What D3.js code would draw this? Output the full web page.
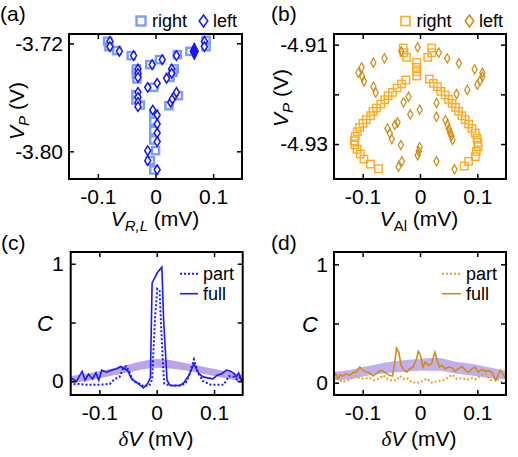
<!DOCTYPE html>
<html><head><meta charset="utf-8">
<script src="https://cdn.jsdelivr.net/npm/d3@7"></script>
<style>body{margin:0;background:#fff}svg{display:block}text{font-family:"Liberation Sans",Arial,sans-serif;fill:#000}</style>
</head><body><svg id="chart" width="518" height="457"></svg>
<script>
// ---------- data ----------
const xTicks = [-0.1, 0, 0.1];
const aYTicks = [-3.72, -3.80];
const bYTicks = [-4.91, -4.92, -4.93];
const cYTicks = [0, 0.5, 1];

// panel (a): V_P vs V_R,L
const aRight = [[-0.083,-3.7185],[-0.0807,-3.7225],[-0.0673,-3.7254],[-0.0421,-3.7291],[-0.0099,-3.7358],[0.007,-3.7321],[0.038,-3.7284],[0.0596,-3.7259],[0.0877,-3.7178],[0.0877,-3.7225],[-0.0333,-3.739],[-0.0333,-3.7427],[-0.0322,-3.7464],[-0.0029,-3.7526],[0.0251,-3.7452],[0.0304,-3.7415],[0.0327,-3.739],[-0.0339,-3.758],[-0.0339,-3.762],[-0.0263,-3.7657],[0.0398,-3.7588],[0.0234,-3.7662],[-0.0029,-3.7723],[-0.0029,-3.7778],[-0.0029,-3.7847],[-0.0029,-3.7916],[0,-3.7995],[-0.0088,-3.8069],[-0.0029,-3.8138]];
const aLeft = [[-0.079,-3.7185],[-0.079,-3.7225],[-0.0626,-3.7259],[-0.038,-3.7291],[-0.0058,-3.7358],[0.0117,-3.7321],[0.0363,-3.7291],[0.0848,-3.7185],[0.0848,-3.7225],[-0.0304,-3.739],[-0.0304,-3.7422],[-0.0304,-3.7452],[-0.0135,-3.7526],[0.0029,-3.7496],[0.0193,-3.7459],[0.0281,-3.739],[0.0281,-3.7422],[-0.0304,-3.7563],[-0.0304,-3.76],[-0.0304,-3.7637],[-0.0304,-3.7669],[0.0263,-3.7637],[0.0292,-3.7612],[0.0339,-3.7583],[0.0363,-3.7563],[-0.0047,-3.7694],[0.0029,-3.7731],[0.0029,-3.7798],[0.0029,-3.7864],[0.0029,-3.7928],[-0.0135,-3.7995],[-0.0135,-3.8069],[0.0029,-3.8136]];
const aLeftFilled = [[0.0673,-3.7259]];

// panel (b): V_P vs V_Al
const bRight = [[-0.0292,-4.91067],[-0.0281,-4.91161],[-0.0234,-4.91255],[0.0205,-4.91067],[0.0205,-4.91161],[0.0135,-4.91255],[-0.0058,-4.91356],[-0.0058,-4.91456],[-0.0058,-4.91544],[-0.0058,-4.91631],[-0.0246,-4.91711],[-0.0322,-4.91792],[-0.0398,-4.91872],[-0.048,-4.9196],[-0.0556,-4.92027],[-0.0614,-4.92107],[-0.0684,-4.92195],[-0.076,-4.92275],[-0.0819,-4.92342],[-0.086,-4.9243],[-0.0936,-4.9251],[-0.0994,-4.92584],[-0.1053,-4.92664],[-0.1094,-4.92752],[-0.1129,-4.92846],[-0.1146,-4.92933],[-0.1135,-4.9302],[-0.1099,-4.93107],[-0.1041,-4.93201],[-0.0977,-4.93302],[-0.0865,-4.93403],[-0.0725,-4.93497],[0.0164,-4.91691],[0.0234,-4.91779],[0.0304,-4.91846],[0.0363,-4.9194],[0.0439,-4.92013],[0.0497,-4.92101],[0.0561,-4.92181],[0.062,-4.92262],[0.0673,-4.92342],[0.0731,-4.9243],[0.0789,-4.9251],[0.0848,-4.92597],[0.0906,-4.92685],[0.0965,-4.92779],[0.0994,-4.92879],[0.1006,-4.92966],[0.1012,-4.93054],[0.0982,-4.93148],[0.0965,-4.93255],[0.0848,-4.93349],[0.0772,-4.93443]];
const bLeft = [[-0.0041,-4.91054],[-0.0327,-4.91134],[-0.062,-4.91275],[-0.0813,-4.91362],[0.0327,-4.91161],[0.0474,-4.91275],[0.0678,-4.91376],[-0.1076,-4.91564],[-0.1018,-4.91456],[-0.1006,-4.91644],[-0.0977,-4.91738],[0.0953,-4.91497],[0.1088,-4.91564],[0.1088,-4.91644],[0.1047,-4.91725],[0.1,-4.91805],[0.0825,-4.91913],[-0.0813,-4.91846],[-0.0772,-4.91966],[0.0637,-4.91993],[-0.0199,-4.92047],[-0.0287,-4.92161],[-0.0006,-4.92309],[-0.017,-4.92403],[0.0287,-4.92174],[0.0287,-4.9245],[-0.0392,-4.92564],[-0.0439,-4.92611],[-0.0567,-4.92685],[-0.0526,-4.92785],[-0.0491,-4.929],[-0.0333,-4.9302],[0.0444,-4.92517],[0.048,-4.92611],[0.0503,-4.92698],[0.0526,-4.92772],[0.055,-4.92839],[0.0567,-4.9292],[-0.0006,-4.93067],[-0.0023,-4.93148],[-0.0041,-4.93228],[-0.0316,-4.93349],[-0.0374,-4.93456],[0.0287,-4.93349],[0.0602,-4.9351]];

// panel (c): correlation, blue
const cFull = [[-0.152,0.014],[-0.146,0.02],[-0.140,-0.003],[-0.135,0.043],[-0.130,0.083],[-0.125,0.009],[-0.119,0.06],[-0.112,0.02],[-0.106,0.071],[-0.101,0.009],[-0.096,0.094],[-0.088,0.077],[-0.079,0.094],[-0.070,0.106],[-0.063,0.126],[-0.056,0.106],[-0.050,0.086],[-0.045,0.029],[-0.038,0],[-0.030,-0.029],[-0.023,-0.057],[-0.016,-0.02],[-0.011,0.029],[-0.008,0.837],[0.001,0.923],[0.009,0.971],[0.012,0.53],[0.018,0.009],[0.023,-0.034],[0.032,-0.037],[0.041,-0.034],[0.047,-0.014],[0.056,0.049],[0.065,0.149],[0.073,0.066],[0.081,0.037],[0.089,0.029],[0.098,0.02],[0.105,0.049],[0.114,0.066],[0.122,0.094],[0.129,0.086],[0.135,0.066],[0.139,0.037],[0.143,0.071],[0.147,0.014],[0.152,0.02]];
const cPart = [[-0.152,-0.026],[-0.135,-0.023],[-0.126,-0.029],[-0.117,-0.029],[-0.099,-0.029],[-0.082,-0.023],[-0.073,0.02],[-0.065,0.034],[-0.058,0.114],[-0.053,0.129],[-0.047,0.071],[-0.041,0],[-0.032,-0.014],[-0.023,-0.043],[-0.013,-0.037],[-0.008,0.014],[-0.003,0.53],[0.001,0.786],[0.005,0.771],[0.009,0.329],[0.013,-0.02],[0.023,-0.037],[0.041,-0.037],[0.05,-0.02],[0.057,0.057],[0.065,0.186],[0.072,0.071],[0.081,0],[0.094,-0.029],[0.117,-0.029],[0.126,0.043],[0.135,0.037],[0.140,0.014],[0.146,0.037],[0.152,-0.029]];
const bandX = [-0.15,-0.12,-0.09,-0.06,-0.03,0,0.03,0.06,0.09,0.12,0.15];
const cBandLow  = [-0.015,0.005,0.035,0.065,0.095,0.115,0.105,0.085,0.055,0.025,-0.005];
const cBandHigh = [0.045,0.065,0.095,0.125,0.165,0.19,0.175,0.145,0.115,0.085,0.055];

// panel (d): correlation, orange
const dFull = [[-0.152,0.039],[-0.147,0.076],[-0.143,0.034],[-0.139,0.067],[-0.135,0.056],[-0.129,0.076],[-0.123,0.062],[-0.117,0.084],[-0.111,0.09],[-0.105,0.132],[-0.099,0.104],[-0.094,0.09],[-0.088,0.084],[-0.082,0.056],[-0.076,0.076],[-0.070,0.104],[-0.064,0.096],[-0.058,0.076],[-0.053,0.062],[-0.048,0.056],[-0.044,0.174],[-0.041,0.292],[-0.037,0.258],[-0.033,0.146],[-0.029,0.112],[-0.023,0.09],[-0.018,0.118],[-0.012,0.132],[-0.006,0.202],[-0.003,0.264],[0.001,0.23],[0.005,0.132],[0.009,0.174],[0.015,0.146],[0.020,0.16],[0.026,0.258],[0.029,0.202],[0.034,0.132],[0.038,0.146],[0.044,0.118],[0.050,0.132],[0.056,0.124],[0.061,0.096],[0.067,0.118],[0.073,0.138],[0.079,0.104],[0.085,0.09],[0.091,0.118],[0.096,0.132],[0.102,0.09],[0.108,0.112],[0.114,0.096],[0.120,0.104],[0.126,0.084],[0.132,0.02],[0.136,0.062],[0.140,0.104],[0.146,0.062],[0.151,0.02]];
const dPart = [[-0.152,0.02],[-0.143,0.034],[-0.135,0.006],[-0.123,0.025],[-0.114,0.056],[-0.105,0.039],[-0.096,0.034],[-0.088,0.039],[-0.079,0.02],[-0.070,0.039],[-0.064,0.062],[-0.058,0.034],[-0.050,0.02],[-0.041,0.02],[-0.035,0.056],[-0.029,0.034],[-0.023,0.042],[-0.015,0.006],[-0.006,-0.003],[0.003,0.011],[0.012,0.034],[0.020,0],[0.029,0.011],[0.041,0.02],[0.050,0.048],[0.056,0.067],[0.064,0.034],[0.073,0.039],[0.082,0.025],[0.091,0.039],[0.096,0.028],[0.105,0.056],[0.114,0.076],[0.123,0.02],[0.132,0.039],[0.140,0.011],[0.146,0]];
const dBandLow  = [0.02,0.03,0.06,0.08,0.09,0.10,0.10,0.08,0.06,0.04,0.03];
const dBandHigh = [0.09,0.11,0.14,0.17,0.19,0.20,0.21,0.18,0.16,0.13,0.10];

// ---------- drawing ----------
const svg = d3.select("#chart");
const fmtX = d => d === 0 ? "0" : d.toFixed(1);

function panel(o) {
  const x = d3.scaleLinear().domain([-0.15, 0.15]).range(o.xr);
  const y = d3.scaleLinear().domain(o.yd).range(o.yr);
  const g = svg.append("g");
  const id = "clip" + o.name;
  svg.append("clipPath").attr("id", id).append("rect")
    .attr("x", o.xr[0]).attr("y", o.yr[1]).attr("width", o.xr[1]-o.xr[0]).attr("height", o.yr[0]-o.yr[1]);
  const plot = g.append("g").attr("clip-path", `url(#${id})`);
  const ax = g.append("g");
  ax.append("g").attr("transform", `translate(0,${o.yr[0]})`)
    .call(d3.axisBottom(x).tickValues(xTicks).tickSize(-5).tickPadding(10).tickFormat(fmtX));
  ax.append("g").attr("transform", `translate(0,${o.yr[1]})`)
    .call(d3.axisTop(x).tickValues(xTicks).tickSize(-5).tickFormat(""));
  ax.append("g").attr("transform", `translate(${o.xr[0]},0)`)
    .call(d3.axisLeft(y).tickValues(o.yt).tickSize(-5).tickPadding(o.yPad).tickFormat(o.yf));
  ax.append("g").attr("transform", `translate(${o.xr[1]},0)`)
    .call(d3.axisRight(y).tickValues(o.yt).tickSize(-5).tickFormat(""));
  ax.selectAll(".domain").remove();
  ax.selectAll(".tick line").attr("stroke", "#000").attr("stroke-width", 1.5);
  ax.selectAll(".tick text").attr("font-size", 21).attr("font-family", '"Liberation Sans",Arial,sans-serif');
  return {g, plot, x, y, ax, frame: () => g.append("rect").attr("x", o.xr[0]).attr("y", o.yr[1])
    .attr("width", o.xr[1]-o.xr[0]).attr("height", o.yr[0]-o.yr[1])
    .attr("fill", "none").attr("stroke", "#000").attr("stroke-width", 2)};
}

function diamond(cx, cy, w, h) {
  return `M${cx},${cy-h}L${cx+w},${cy}L${cx},${cy+h}L${cx-w},${cy}Z`;
}

// ----- (a)
const pa = panel({name:"a", xr:[69,242], yr:[179,34], yd:[-3.8205,-3.7131], yt:aYTicks, yPad:6, yf:d=>d.toFixed(2)});
pa.plot.selectAll("rect.r").data(aRight).join("rect").attr("class","r")
  .attr("x", d => pa.x(d[0]) - 3.6).attr("y", d => pa.y(d[1]) - 3.6)
  .attr("width", 7.2).attr("height", 7.2)
  .attr("fill", "none").attr("stroke", "#7d9df4").attr("stroke-width", 2.4);
pa.plot.selectAll("path.l").data(aLeft).join("path").attr("class","l")
  .attr("d", d => diamond(pa.x(d[0]), pa.y(d[1]), 3, 4.7))
  .attr("fill", "#fff").attr("stroke", "#1515f5").attr("stroke-width", 1.5);
pa.plot.selectAll("path.lf").data(aLeftFilled).join("path").attr("class","lf")
  .attr("d", d => diamond(pa.x(d[0]), pa.y(d[1]), 4.2, 8.5))
  .attr("fill", "#1515f5").attr("stroke", "#1515f5").attr("stroke-width", 1);
pa.frame();

// ----- (b)
const pb = panel({name:"b", xr:[334,506], yr:[179,34], yd:[-4.93704,-4.90785], yt:bYTicks, yPad:6, yf:d=>d===-4.92?"":d.toFixed(2)});
pb.plot.selectAll("rect.r").data(bRight).join("rect").attr("class","r")
  .attr("x", d => pb.x(d[0]) - 3.7).attr("y", d => pb.y(d[1]) - 3.7)
  .attr("width", 7.4).attr("height", 7.4)
  .attr("fill", "none").attr("stroke", "#ffaa1e").attr("stroke-width", 1.4);
pb.plot.selectAll("path.l").data(bLeft).join("path").attr("class","l")
  .attr("d", d => diamond(pb.x(d[0]), pb.y(d[1]), 2.6, 4.6))
  .attr("fill", "none").attr("stroke", "#cf8a12").attr("stroke-width", 1.2);
pb.frame();

// ----- (c)
const pc = panel({name:"c", xr:[70.7,242.7], yr:[395,252], yd:[-0.117,1.1], yt:cYTicks, yPad:7, yf:d=>d===0.5?"":String(d)});
const bandC = bandX.map((v,i)=>({x:v, lo:cBandLow[i], hi:cBandHigh[i]}));
pc.plot.append("path").datum(bandC)
  .attr("d", d3.area().curve(d3.curveMonotoneX).x(d=>pc.x(d.x)).y0(d=>pc.y(d.lo)).y1(d=>pc.y(d.hi)))
  .attr("fill", "#b29be2").attr("opacity", 0.9);
pc.plot.append("path").datum(cPart)
  .attr("d", d3.line().x(d=>pc.x(d[0])).y(d=>pc.y(d[1])))
  .attr("fill","none").attr("stroke","#1a1aff").attr("stroke-width",2).attr("stroke-dasharray","2,2");
pc.plot.append("path").datum(cFull)
  .attr("d", d3.line().x(d=>pc.x(d[0])).y(d=>pc.y(d[1])))
  .attr("fill","none").attr("stroke","#1a1aff").attr("stroke-width",1.6);
pc.frame();

// ----- (d)
const pd = panel({name:"d", xr:[334,506], yr:[395,252], yd:[-0.104,1.104], yt:cYTicks, yPad:6, yf:d=>d===0.5?"":String(d)});
const bandD = bandX.map((v,i)=>({x:v, lo:dBandLow[i], hi:dBandHigh[i]}));
pd.plot.append("path").datum(bandD)
  .attr("d", d3.area().curve(d3.curveMonotoneX).x(d=>pd.x(d.x)).y0(d=>pd.y(d.lo)).y1(d=>pd.y(d.hi)))
  .attr("fill", "#b7a1ea").attr("opacity", 0.85);
pd.plot.append("path").datum(dPart)
  .attr("d", d3.line().x(d=>pd.x(d[0])).y(d=>pd.y(d[1])))
  .attr("fill","none").attr("stroke","#e8a128").attr("stroke-width",2).attr("stroke-dasharray","2,2");
pd.plot.append("path").datum(dFull)
  .attr("d", d3.line().x(d=>pd.x(d[0])).y(d=>pd.y(d[1])))
  .attr("fill","none").attr("stroke","#d08c17").attr("stroke-width",1.6);
pd.frame();

// ----- text: panel letters
[["(a)",0,21],["(b)",271,21],["(c)",1,250],["(d)",271,250]].forEach(([t,x,y]) =>
  svg.append("text").attr("x",x).attr("y",y).attr("font-size",21).text(t));

// legends (a),(b)
function scatterLegend(sqx, dmx, y, sqColor, sqW, dmColor, dmFill) {
  svg.append("rect").attr("x", sqx-4.5).attr("y", y-4.5).attr("width", 9).attr("height", 9)
    .attr("fill","none").attr("stroke", sqColor).attr("stroke-width", sqW);
  svg.append("text").attr("x", sqx+11).attr("y", y+6).attr("font-size",18).text("right");
  svg.append("path").attr("d", diamond(dmx, y, 4.3, 6)).attr("fill", dmFill).attr("stroke", dmColor).attr("stroke-width",1.5);
  svg.append("text").attr("x", dmx+9.5).attr("y", y+6).attr("font-size",18).text("left");
}
scatterLegend(141, 203.5, 21, "#7d9df4", 2.4, "#1515f5", "#fff");
scatterLegend(405.5, 469.5, 21, "#ffaa1e", 1.6, "#cf8a12", "none");

// legends (c),(d)
function lineLegend(x0, x1, color, dotColor) {
  svg.append("line").attr("x1",x0).attr("x2",x1).attr("y1",273.7).attr("y2",273.7)
    .attr("stroke",dotColor).attr("stroke-width",2).attr("stroke-dasharray","2,2");
  svg.append("text").attr("x",x1+5).attr("y",279.5).attr("font-size",18).text("part");
  svg.append("line").attr("x1",x0).attr("x2",x1).attr("y1",293.7).attr("y2",293.7)
    .attr("stroke",color).attr("stroke-width",1.6);
  svg.append("text").attr("x",x1+5).attr("y",299.5).attr("font-size",18).text("full");
}
lineLegend(180, 198, "#1a1aff", "#1a1aff");
lineLegend(442, 461, "#d08c17", "#e8a128");

// axis labels
function addParts(t, parts) {
  parts.forEach(p => {
    const s = t.append("tspan").text(p.t);
    if (p.i) s.attr("font-style","italic");
    if (p.serif) s.attr("font-family",'"Liberation Serif",serif');
    if (p.sub) s.attr("font-size",15).attr("dy",5);
    if (p.up) s.attr("dy",-5);
  });
}
function xLabel(cx, y, parts) {
  addParts(svg.append("text").attr("x", cx).attr("y", y).attr("text-anchor","middle").attr("font-size",21), parts);
}
xLabel(155, 226, [{t:"V",i:1},{t:"R,L",i:1,sub:1},{t:" (mV)",up:1}]);
xLabel(419, 226, [{t:"V",i:1},{t:"Al",sub:1},{t:" (mV)",up:1}]);
xLabel(156, 446, [{t:"δ",i:1,serif:1},{t:"V",i:1},{t:" (mV)"}]);
xLabel(419, 446, [{t:"δ",i:1,serif:1},{t:"V",i:1},{t:" (mV)"}]);

function yLabel(cx, cy, parts) {
  addParts(svg.append("text").attr("transform",`translate(${cx},${cy}) rotate(-90)`)
    .attr("text-anchor","middle").attr("font-size",21), parts);
}
yLabel(24, 111, [{t:"V",i:1},{t:"P",i:1,sub:1},{t:" (V)",up:1}]);
yLabel(288, 98, [{t:"V",i:1},{t:"P",i:1,sub:1},{t:" (V)",up:1}]);

[[45,331],[310,332]].forEach(([x,y]) =>
  svg.append("text").attr("x",x).attr("y",y).attr("text-anchor","middle")
    .attr("font-family",'"Liberation Serif",serif').attr("font-style","italic").attr("font-size",22).text("C"));
</script></body></html>
